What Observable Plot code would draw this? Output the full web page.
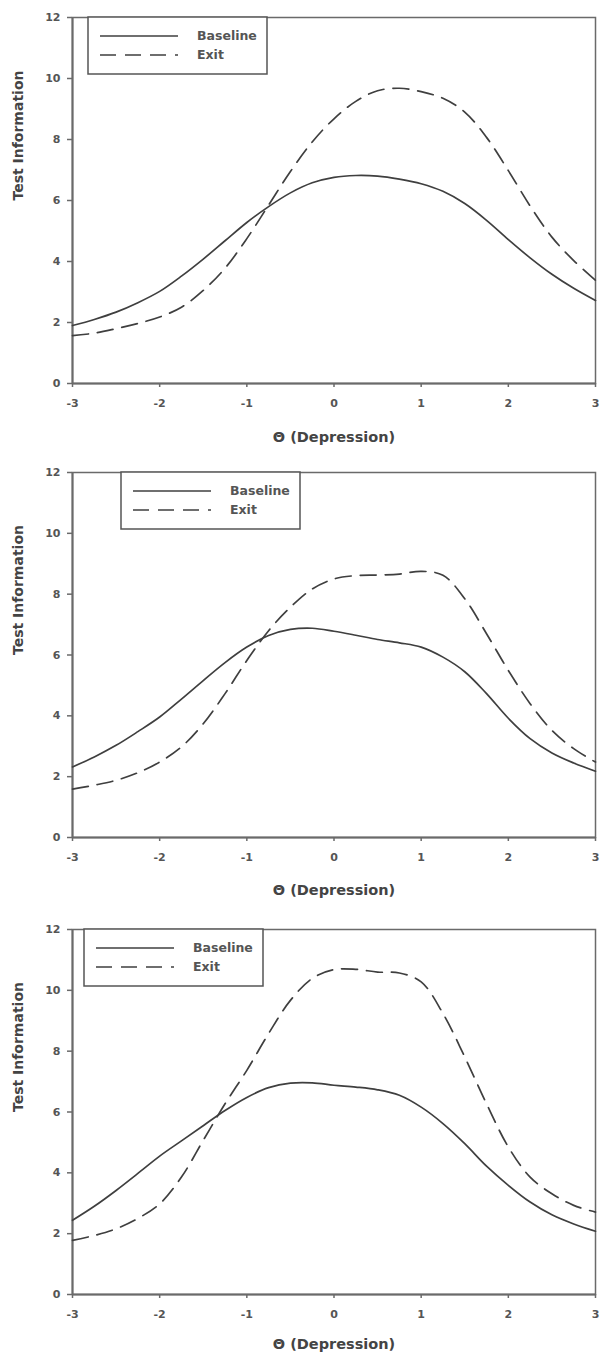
<!DOCTYPE html>
<html>
<head>
<meta charset="utf-8">
<script src="https://cdn.jsdelivr.net/npm/d3@7"></script>
<script src="https://cdn.jsdelivr.net/npm/@observablehq/plot@0.6"></script>
<style>
  html, body { margin: 0; padding: 0; background: #fff; }
  #chart svg { display: block; }
  #chart svg text { font-weight: bold; }
</style>
</head>
<body>
<div id="chart"></div>
<script>
// ---- data ----
const theta = [-3, -2.75, -2.5, -2.25, -2, -1.75, -1.5, -1.25, -1, -0.75, -0.5, -0.25, 0,
               0.25, 0.5, 0.75, 1, 1.25, 1.5, 1.75, 2, 2.25, 2.5, 2.75, 3];

const baseline1 = [1.9, 2.1, 2.34, 2.65, 3.02, 3.52, 4.08, 4.68, 5.28, 5.8, 6.25, 6.58, 6.76,
                   6.82, 6.8, 6.7, 6.55, 6.3, 5.9, 5.35, 4.72, 4.12, 3.58, 3.12, 2.72];
const exit1     = [1.57, 1.65, 1.8, 1.97, 2.18, 2.5, 3.05, 3.78, 4.75, 5.85, 6.95, 7.92, 8.68,
                   9.25, 9.6, 9.68, 9.57, 9.35, 8.9, 8.07, 6.98, 5.82, 4.8, 4.03, 3.38];

const baseline2 = [2.32, 2.65, 3.03, 3.48, 3.96, 4.55, 5.16, 5.75, 6.26, 6.64, 6.84, 6.88, 6.78,
                   6.65, 6.51, 6.4, 6.26, 5.93, 5.45, 4.73, 3.92, 3.25, 2.78, 2.45, 2.18];
const exit2     = [1.59, 1.72, 1.88, 2.13, 2.48, 2.98, 3.74, 4.73, 5.82, 6.8, 7.57, 8.17, 8.5,
                   8.61, 8.63, 8.66, 8.75, 8.62, 7.85, 6.7, 5.49, 4.4, 3.52, 2.92, 2.48];

const baseline3 = [2.44, 2.9, 3.42, 3.98, 4.55, 5.05, 5.55, 6.05, 6.48, 6.8, 6.95, 6.96, 6.88,
                   6.82, 6.73, 6.55, 6.16, 5.62, 4.96, 4.22, 3.59, 3.04, 2.62, 2.32, 2.08];
const exit3     = [1.78, 1.94, 2.16, 2.5, 2.98, 3.86, 5.07, 6.27, 7.37, 8.58, 9.67, 10.39, 10.68,
                   10.69, 10.6, 10.57, 10.28, 9.24, 7.81, 6.27, 4.85, 3.86, 3.31, 2.93, 2.71];

const xTicks = [-3, -2, -1, 0, 1, 2, 3];
const yTicks = [0, 2, 4, 6, 8, 10, 12];
const seriesNames = ["Baseline", "Exit"];
const xTitle = "Θ (Depression)";
const yTitle = "Test Information";

// ---- drawing ----
const lineColor = "#3f3f3f";
const axisColor = "#6a6a6a";
const textColor = "#555";
const dash = "16,9";
const font = "'DejaVu Sans', sans-serif";

function panel(baseline, exit, opts) {
  const {height, marginTop, marginBottom, legendDx, titleDy} = opts;
  const rows = (vals) => theta.map((t, i) => ({theta: t, info: vals[i]}));
  const plot = Plot.plot({
    width: 601,
    height,
    marginLeft: 72,
    marginRight: 6,
    marginTop,
    marginBottom,
    style: {fontFamily: font, fontSize: "11px", background: "#fff", color: textColor},
    x: {domain: [-3, 3]},
    y: {domain: [0, 12]},
    marks: [
      Plot.frame({stroke: axisColor, strokeWidth: 1.5}),
      Plot.ruleX([-3], {stroke: axisColor, strokeWidth: 2}),
      Plot.ruleY([0], {stroke: axisColor, strokeWidth: 2}),
      Plot.axisX({ticks: xTicks, tickSize: 4, tickPadding: 12, tickFormat: d => String(d),
                  label: null, stroke: axisColor, fill: textColor, strokeWidth: 1.5}),
      Plot.axisY({ticks: yTicks, tickSize: 5, tickPadding: 7, tickFormat: d => String(d),
                  label: null, stroke: axisColor, fill: textColor, strokeWidth: 1.5}),
      Plot.line(rows(baseline), {x: "theta", y: "info", stroke: lineColor, strokeWidth: 1.7, curve: "catmull-rom"}),
      Plot.line(rows(exit), {x: "theta", y: "info", stroke: lineColor, strokeWidth: 1.7,
                             strokeDasharray: dash, curve: "catmull-rom"}),
      Plot.text([xTitle], {frameAnchor: "bottom", dy: titleDy, fontSize: 14.5, fill: "#444", lineAnchor: "middle"}),
      Plot.text([yTitle], {frameAnchor: "left", dx: -54, rotate: -90, fontSize: 14, fill: "#444", lineAnchor: "middle"})
    ]
  });

  // legend box
  const svg = d3.select(plot);
  const bx = 72 + legendDx, by = marginTop, bw = 179, bh = 57;
  const g = svg.append("g").attr("text-anchor", "start");
  g.append("rect").attr("x", bx).attr("y", by).attr("width", bw).attr("height", bh)
    .attr("fill", "#fff").attr("stroke", "#555").attr("stroke-width", 1.5);
  seriesNames.forEach((name, i) => {
    const yy = by + 19 + i * 19;
    g.append("line").attr("x1", bx + 12).attr("x2", bx + 90).attr("y1", yy).attr("y2", yy)
      .attr("stroke", lineColor).attr("stroke-width", 1.7)
      .attr("stroke-dasharray", i === 1 ? dash : null);
    g.append("text").attr("x", bx + 109).attr("y", yy).attr("dy", "0.35em")
      .attr("text-anchor", "start")
      .attr("font-size", 12.5).attr("font-weight", "bold").attr("fill", "#555")
      .attr("font-family", font).text(name);
  });
  return plot;
}

const chart = document.getElementById("chart");
chart.append(panel(baseline1, exit1, {height: 452, marginTop: 17, marginBottom: 69, legendDx: 16, titleDy: 54}));
chart.append(panel(baseline2, exit2, {height: 452, marginTop: 20, marginBottom: 67, legendDx: 49, titleDy: 53}));
chart.append(panel(baseline3, exit3, {height: 453, marginTop: 25, marginBottom: 63, legendDx: 12, titleDy: 50}));
</script>
</body>
</html>
